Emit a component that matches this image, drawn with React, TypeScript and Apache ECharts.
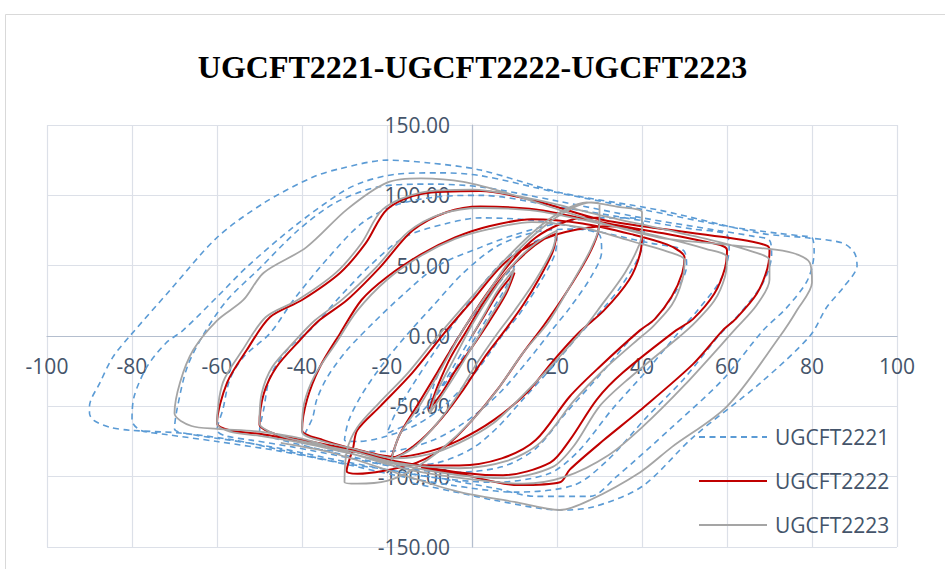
import React, { useEffect, useRef } from "react";
import * as echarts from "echarts";

const TITLE = "UGCFT2221-UGCFT2222-UGCFT2223";
const SERIES_NAMES = ["UGCFT2221", "UGCFT2222", "UGCFT2223"];
const X_MIN = -100;
const X_MAX = 100;
const X_STEP = 20;
const Y_MIN = -150;
const Y_MAX = 150;
const Y_STEP = 50;

// UGCFT2221 (blue dashed) – displacement / load pairs
const ugcft2221: number[][] = [
  [0, 0], [-4, -20], [-7, -35], [-10, -48],
  [-9, -35], [-6, -15], [-2, 5], [3, 25], [7, 40], [10, 50],
  [8, 35], [4, 15], [0, -5], [-5, -28], [-10, -48], [-15, -62], [-19, -68], [-20, -69],
  [-18, -55], [-14, -35], [-9, -12], [-4, 10], [2, 35], [8, 55], [14, 66], [18, 70], [20, 70],
  [19.5, 58], [16, 38], [11, 15], [7, 0], [1, -25], [-6, -48], [-13, -63], [-21, -72], [-27, -75], [-30, -74],
  [-29, -60], [-26, -42], [-21, -20], [-15, 2], [-9, 22], [-2, 45], [6, 64], [15, 74], [24, 76], [30, 72],
  [30.5, 60], [28, 42], [23, 20], [19, 5], [13, -18], [6, -42], [-2, -62], [-10, -75], [-20, -82], [-30, -82], [-37, -80], [-40, -76],
  [-37.5, -58], [-36.5, -45], [-34, -29], [-29.4, -10], [-23, 10], [-16, 30], [-8, 50], [2, 63], [10, 72], [20, 80], [30, 84], [37, 84], [40, 82],
  [40.5, 70], [39, 55], [35, 35], [31, 20], [25, 0], [18, -25], [12, -45], [6, -65], [0, -80], [-8, -90], [-18, -92], [-28, -86], [-38, -79], [-46, -73], [-50, -68],
  [-49, -52], [-47.5, -29], [-43.5, -10], [-37.4, 6.4], [-31.8, 25.6], [-24, 50], [-16, 70], [-6, 80], [2, 84], [15, 82], [30, 74], [42, 66], [48, 63], [50, 60],
  [50.5, 50], [48, 32], [43, 12], [38, 0], [30, -28], [22, -55], [15, -80], [7, -93], [-5, -97], [-18, -93], [-30, -86], [-42, -79], [-52, -74], [-58, -71], [-60, -67],
  [-58.6, -52], [-57, -31], [-53.8, -15], [-47.5, 2], [-42, 25.6], [-34, 55], [-26, 80], [-18, 93], [-8, 99], [2, 100], [20, 92], [40, 82], [52, 76], [58, 74], [60, 72],
  [60.5, 62], [58.5, 40], [53, 18], [49, 4], [41, -25], [33, -52], [25, -82], [18, -98], [5, -104], [-8, -101], [-20, -95], [-32, -88], [-45, -80], [-57, -74], [-66, -70], [-70, -66],
  [-69.4, -52], [-67, -22], [-63, 2], [-57.6, 25.6], [-50, 48], [-41, 75], [-32, 95], [-22, 106], [-10, 108], [2, 106], [20, 96], [40, 84], [58, 75], [66, 71], [70, 68],
  [70.5, 58], [68.5, 38], [63, 16], [58, 0], [50, -30], [41, -58], [32, -88], [24, -106], [10, -111], [-5, -106], [-18, -99], [-30, -91], [-45, -82], [-60, -75], [-72, -70], [-78, -67], [-80, -60],
  [-79.5, -43], [-76.5, -22], [-72, -5], [-68, 4], [-60, 27.7], [-53, 49], [-42, 77.5], [-31, 101.6], [-25.6, 109.5], [-18, 115], [-8, 116], [2, 114], [20, 102], [40, 90], [60, 78], [72, 73], [78, 71], [80, 70],
  [80.5, 60], [79, 40], [74, 20], [68.5, 4], [59, -31], [47, -65], [34, -100], [27.8, -114], [15, -114], [5, -108], [-10, -100], [-20, -95], [-31, -90], [-45, -81], [-56, -74], [-68.7, -69], [-80.5, -67], [-85, -65], [-89, -60], [-90, -55],
  [-90, -50], [-87.5, -33], [-84.5, -15], [-80.5, 0], [-71, 32.7], [-60, 70], [-49, 94.5], [-37.4, 113], [-31, 119], [-20, 125], [-10, 123], [2, 118], [20.7, 102], [44, 89.5], [68, 73], [79.5, 69.6], [87.3, 66], [90, 59],
  [90.6, 50], [87.5, 35], [83.5, 20.6], [79.5, 0], [68, -33], [52, -72], [40, -107], [28.5, -121.5], [20.7, -123.7], [5, -116.6], [-2.8, -111.6], [-15, -104],
];

// UGCFT2222 (red solid)
const ugcft2222: number[][] = [
  [0, 0], [3, 15], [6, 30], [10, 45],
  [8, 30], [4, 10], [0, -8], [-4, -25], [-7, -40], [-10, -52],
  [-8, -35], [-5, -15], [-1, 5], [3, 25], [8, 45], [13, 60], [17, 69], [20, 73],
  [19, 60], [16, 42], [12, 22], [8, 5], [3, -15], [-2, -38], [-7, -58], [-12, -74], [-16, -83], [-19, -87],
  [-17, -70], [-13, -50], [-8, -25], [-3, 0], [3, 28], [9, 52], [15, 70], [21, 80], [26, 84], [30, 84],
  [29.5, 72], [27, 55], [22, 30], [17, 8], [12, -12], [6, -38], [0, -60], [-6, -78], [-13, -90], [-21, -96], [-27, -98], [-29.5, -96],
  [-28, -80], [-27, -67], [-21.6, -50], [-14, -26], [-6, 4], [0, 25], [7, 50], [14, 65], [22, 74], [32, 78], [38, 76], [40, 72],
  [39.5, 58], [37, 40], [31, 18], [25, 2], [19, -18], [13, -40], [5, -60], [-3, -74], [-10, -82], [-18, -86], [-28, -80], [-35, -74], [-40, -67],
  [-38.8, -45], [-35.8, -22], [-31, 2], [-26, 25.6], [-20, 42], [-12, 58], [-4, 70], [4, 78], [14, 83], [26, 80], [38, 72], [46, 65], [49, 60], [50, 56],
  [49.5, 45], [47, 28], [43, 12], [39.5, 4], [30, -22], [23, -43], [15, -74], [7, -87], [-3, -92], [-10, -92], [-18, -89], [-28, -81], [-38, -75], [-46, -70], [-50, -63],
  [-49, -41], [-46, -22], [-40.5, -3], [-36, 11], [-29.4, 25.6], [-21.6, 49], [-14, 75], [-6, 88], [2, 92], [15, 90], [30, 81], [45, 73], [55, 67], [59, 64], [60, 61],
  [59.5, 48], [57, 30], [52, 12], [48, 4], [35.5, -26], [29.4, -45], [23, -74], [18.4, -90], [7.3, -99], [-3, -97], [-18, -89], [-28, -82], [-40, -75], [-49, -70], [-57, -67], [-60, -62],
  [-57.6, -33], [-53, -10], [-47.5, 13.5], [-40, 25.6], [-31, 45], [-25, 66], [-20, 90], [-12, 101], [2, 103], [15, 96], [30, 83], [45, 76], [60, 70], [66, 67], [69.5, 64], [70, 61],
  [69.5, 48], [67, 30], [62, 12], [59, 4], [52, -20], [39.5, -53], [31, -74], [23, -95], [20.7, -104], [11, -106], [-3, -98], [-12, -94],
];

// UGCFT2223 (grey solid)
const ugcft2223: number[][] = [
  [0, 0], [3, 16], [6, 32], [10, 48],
  [8, 32], [4, 12], [0, -8], [-4, -28], [-7, -42], [-10, -55],
  [-8, -38], [-4, -15], [0, 8], [5, 32], [10, 52], [15, 66], [20, 75],
  [19, 62], [15, 40], [10, 18], [6, 2], [1, -20], [-4, -45], [-9, -65], [-14, -80], [-19, -88],
  [-17, -70], [-12, -48], [-7, -22], [-2, 5], [4, 32], [10, 58], [17, 78], [23, 90], [28, 95], [30, 94],
  [30, 80], [28, 62], [23, 35], [18, 10], [12, -12], [6, -38], [0, -60], [-7, -80], [-14, -95], [-20, -103], [-27, -105], [-30, -104],
  [-29.4, -81], [-27, -65], [-22, -48], [-15, -26], [-8, 0], [0, 28], [8, 55], [16, 78], [22, 90], [27, 95], [34, 92], [40, 88],
  [40, 75], [39.5, 66], [36, 45], [30, 20], [26, 4], [19, -20], [12, -42], [5, -62], [-3, -76], [-10, -84], [-18, -87], [-28, -80], [-35, -75], [-40, -68],
  [-39.5, -48], [-37, -28], [-32, -5], [-27, 18], [-20, 40], [-12, 57], [-4, 69], [4, 76], [14, 81], [26, 77], [38, 67], [46, 60], [50, 54],
  [49.5, 40], [47, 22], [42, 5], [40, 0], [31, -24], [24, -46], [16, -76], [8, -89], [-3, -94], [-18, -90], [-28, -82], [-38, -76], [-46, -70], [-50, -62],
  [-49.5, -41], [-47, -22], [-41.5, -3], [-37, 11], [-30.5, 26], [-22.5, 49], [-15, 74], [-7, 87], [2, 91], [15, 89], [30, 80], [45, 70], [55, 62], [60, 56],
  [59.5, 42], [57, 25], [52, 8], [49, 0], [37, -30], [30, -50], [24, -78], [19, -93], [8, -101], [-3, -99], [-18, -91], [-28, -84], [-40, -76], [-50, -71], [-57, -68], [-60, -62],
  [-58.6, -33], [-54, -10], [-48.5, 13.5], [-41, 25.6], [-32, 45], [-26, 66], [-21, 90], [-12, 102], [0, 104], [15, 97], [30, 86], [45, 76], [58, 67], [66, 60], [70, 54],
  [70, 40], [67, 22], [62, 5], [50, -35], [40, -65], [32, -85], [22, -100], [12, -105], [0, -102], [-15, -95], [-30, -82], [-40, -73], [-50, -68], [-60, -66], [-66, -64], [-70, -55],
  [-68.7, -33], [-65.6, -10], [-60, 11], [-53.8, 25.6], [-49, 45], [-39, 63], [-29.4, 90], [-20, 109], [-12, 112], [-2, 109.5], [10, 100], [20.7, 89.5], [32, 79], [44, 70], [56, 66], [68, 62.5], [75.5, 59], [79.5, 52],
  [80, 38], [76.5, 18.5], [72.5, 0], [60, -50], [47, -79], [39.5, -97], [27.8, -116.6], [20.7, -123.7], [10, -118], [-2.8, -111], [-15, -100], [-33, -83], [-45, -76],
];

const SERIES_DATA = [ugcft2221, ugcft2222, ugcft2223];
const SERIES_COLORS = ["#5B9BD5", "#C00000", "#A5A5A5"];

const LABEL_FONT = "'Open Sans', 'Noto Sans', sans-serif";
const LABEL_COLOR = "#44546A";

// plot area in page pixels
const GRID_LEFT = 47;
const GRID_RIGHT_EDGE = 897;
const GRID_TOP = 125;
const GRID_BOTTOM_EDGE = 547;

export default function App() {
  const ref = useRef<HTMLDivElement>(null);

  useEffect(() => {
    if (!ref.current) return;
    const chart = echarts.init(ref.current, null, { renderer: "svg" });

    const plotW = GRID_RIGHT_EDGE - GRID_LEFT;
    const plotH = GRID_BOTTOM_EDGE - GRID_TOP;
    // move the axes (line + labels) onto the zero lines
    const xAxisOffset = -plotH * ((0 - Y_MIN) / (Y_MAX - Y_MIN));
    const yAxisOffset = -plotW * ((0 - X_MIN) / (X_MAX - X_MIN));

    const series = SERIES_NAMES.map((name, i) => ({
      name,
      type: "line",
      data: SERIES_DATA[i],
      symbol: "none",
      smooth: 0.3,
      clip: true,
      z: 2 + i,
      lineStyle:
        i === 0
          ? { color: SERIES_COLORS[i], width: 1.6, type: [6, 4.5] }
          : { color: SERIES_COLORS[i], width: i === 1 ? 2 : 1.8, type: "solid" },
      itemStyle: { color: SERIES_COLORS[i] },
      emphasis: { disabled: true },
    }));

    chart.setOption({
      animation: false,
      backgroundColor: "#ffffff",
      title: {
        text: TITLE,
        left: "center",
        top: 46,
        textStyle: {
          fontFamily: "'Liberation Serif', 'Times New Roman', serif",
          fontWeight: "bold",
          fontSize: 32,
          color: "#000000",
        },
      },
      graphic: [
        {
          type: "rect",
          silent: true,
          z: -10,
          shape: { x: 5.5, y: 14.5, width: 960, height: 600 },
          style: { fill: "none", stroke: "#D9D9D9", lineWidth: 1 },
        },
      ],
      legend: {
        orient: "vertical",
        left: 698,
        top: 425,
        itemWidth: 68,
        itemHeight: 14,
        itemGap: 20,
        padding: 0,
        data: SERIES_NAMES,
        itemStyle: {
          color: "rgba(0,0,0,0)",
          borderColor: "rgba(0,0,0,0)",
          borderWidth: 0,
          opacity: 0,
        },
        textStyle: {
          fontFamily: LABEL_FONT,
          fontSize: 21,
          color: LABEL_COLOR,
          lineHeight: 24,
          padding: [0, 0, 0, 3],
        },
      },
      grid: {
        left: GRID_LEFT,
        right: 945 - GRID_RIGHT_EDGE,
        top: GRID_TOP,
        bottom: 569 - GRID_BOTTOM_EDGE,
        containLabel: false,
        outerBoundsMode: "none",
      },
      xAxis: {
        type: "value",
        position: "bottom",
        offset: xAxisOffset,
        min: X_MIN,
        max: X_MAX,
        interval: X_STEP,
        axisLine: { show: true, onZero: false, lineStyle: { color: "#B4BECE", width: 1.2 } },
        axisTick: { show: false },
        axisLabel: {
          margin: 19,
          fontFamily: LABEL_FONT,
          fontSize: 21,
          color: LABEL_COLOR,
        },
        splitLine: { show: true, lineStyle: { color: "#DCE0E8", width: 1.2 } },
      },
      yAxis: {
        type: "value",
        position: "left",
        offset: yAxisOffset,
        min: Y_MIN,
        max: Y_MAX,
        interval: Y_STEP,
        axisLine: { show: true, onZero: false, lineStyle: { color: "#B4BECE", width: 1.2 } },
        axisTick: { show: false },
        axisLabel: {
          margin: 22,
          fontFamily: LABEL_FONT,
          fontSize: 21,
          color: LABEL_COLOR,
          formatter: (v: number) => v.toFixed(2),
        },
        splitLine: { show: true, lineStyle: { color: "#DCE0E8", width: 1.2 } },
      },
      series,
    });

    return () => chart.dispose();
  }, []);

  return (
    <div
      ref={ref}
      style={{ position: "absolute", left: 0, top: 0, width: 945, height: 569, background: "#fff" }}
    />
  );
}
